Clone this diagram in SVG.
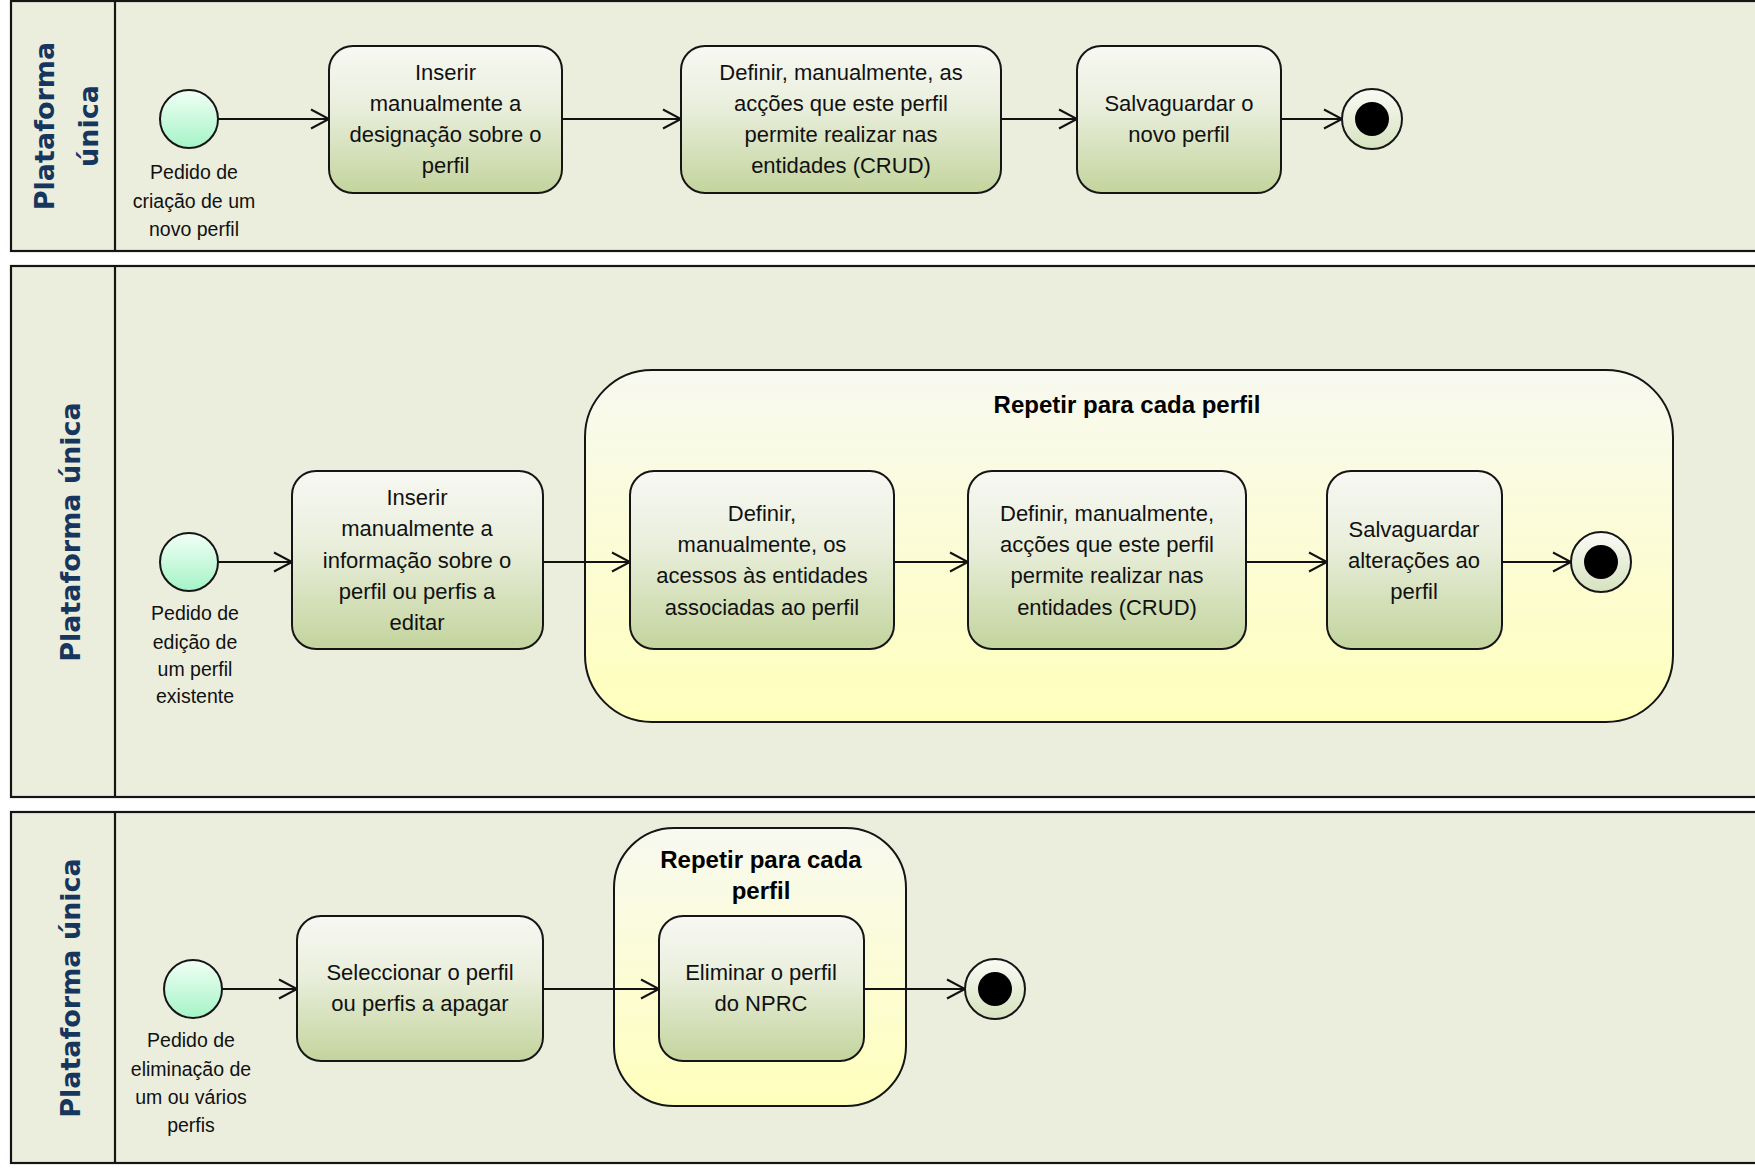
<svg xmlns="http://www.w3.org/2000/svg" width="1755" height="1170" viewBox="0 0 1755 1170">
  <defs>
    <linearGradient id="gTask" x1="0" y1="0" x2="0" y2="1">
      <stop offset="0" stop-color="#F7F8F3"/>
      <stop offset="0.4" stop-color="#EAEFDD"/>
      <stop offset="1" stop-color="#C3D49D"/>
    </linearGradient>
    <linearGradient id="gLoop" x1="0" y1="0" x2="0" y2="1">
      <stop offset="0" stop-color="#F8F9F0"/>
      <stop offset="1" stop-color="#FFFFBC"/>
    </linearGradient>
    <linearGradient id="gStart" x1="0" y1="0" x2="0" y2="1">
      <stop offset="0" stop-color="#F2FFF6"/>
      <stop offset="1" stop-color="#A4F4C6"/>
    </linearGradient>
    <linearGradient id="gEnd" x1="0" y1="0" x2="0" y2="1">
      <stop offset="0" stop-color="#FAFBF6"/>
      <stop offset="1" stop-color="#D6E2BE"/>
    </linearGradient>
    <marker id="arrow" markerUnits="userSpaceOnUse" markerWidth="24" markerHeight="24" viewBox="-20 -12 24 24" refX="0" refY="0" orient="auto">
      <path d="M -18 -9.5 L 0 0 L -18 9.5" fill="none" stroke="#111" stroke-width="2"/>
    </marker>
    <style>
      .lane { fill: #EBEEDD; stroke: #151515; stroke-width: 2.2; }
      .divider { stroke: #151515; stroke-width: 2.2; }
      .hdr { font-family: "DejaVu Sans", Verdana, sans-serif; font-weight: bold; font-size: 27px; fill: #17365D; text-anchor: middle; }
      .task { fill: url(#gTask); stroke: #151515; stroke-width: 2; }
      .loop { fill: url(#gLoop); stroke: #151515; stroke-width: 2; }
      .start { fill: url(#gStart); stroke: #151515; stroke-width: 2; }
      .endring { fill: url(#gEnd); stroke: #151515; stroke-width: 2; }
      .enddot { fill: #000; }
      .t { font-family: "Liberation Sans", Arial, sans-serif; font-size: 22px; fill: #111; text-anchor: middle; }
      .lbl { font-family: "Liberation Sans", Arial, sans-serif; font-size: 19.5px; fill: #111; text-anchor: middle; }
      .ttl { font-family: "Liberation Sans", Arial, sans-serif; font-size: 24px; font-weight: bold; fill: #000; text-anchor: middle; }
      .edge { fill: none; stroke: #111; stroke-width: 2; marker-end: url(#arrow); }
    </style>
  </defs>

  <rect width="1755" height="1170" fill="#FFFFFF"/>

  <!-- Swimlanes -->
  <g id="lane-criacao">
    <rect class="lane" x="11" y="1" width="1760" height="250"/>
    <line class="divider" x1="115" y1="1" x2="115" y2="251"/>
    <text class="hdr" transform="translate(54,126) rotate(-90)">Plataforma</text>
    <text class="hdr" transform="translate(98,126) rotate(-90)">única</text>
  </g>
  <g id="lane-edicao">
    <rect class="lane" x="11" y="266" width="1760" height="531"/>
    <line class="divider" x1="115" y1="266" x2="115" y2="797"/>
    <text class="hdr" transform="translate(80,532) rotate(-90)">Plataforma única</text>
  </g>
  <g id="lane-eliminacao">
    <rect class="lane" x="11" y="812" width="1760" height="351"/>
    <line class="divider" x1="115" y1="812" x2="115" y2="1163"/>
    <text class="hdr" transform="translate(80,988) rotate(-90)">Plataforma única</text>
  </g>

  <!-- Loop regions -->
  <g id="loop-edicao">
    <rect class="loop" x="585" y="370" width="1088" height="352" rx="67" ry="67"/>
    <text class="ttl" x="1127" y="413">Repetir para cada perfil</text>
  </g>
  <g id="loop-eliminacao">
    <rect class="loop" x="614" y="828" width="292" height="278" rx="60" ry="60"/>
    <text class="ttl" x="761" y="868">Repetir para cada</text>
    <text class="ttl" x="761" y="899">perfil</text>
  </g>

  <!-- Connectors -->
  <g id="connectors">
    <line class="edge" x1="218" y1="119" x2="329" y2="119"/>
    <line class="edge" x1="562" y1="119" x2="681" y2="119"/>
    <line class="edge" x1="1001" y1="119" x2="1077" y2="119"/>
    <line class="edge" x1="1281" y1="119" x2="1342" y2="119"/>

    <line class="edge" x1="218" y1="562" x2="292" y2="562"/>
    <line class="edge" x1="543" y1="562" x2="630" y2="562"/>
    <line class="edge" x1="894" y1="562" x2="968" y2="562"/>
    <line class="edge" x1="1246" y1="562" x2="1327" y2="562"/>
    <line class="edge" x1="1502" y1="562" x2="1571" y2="562"/>

    <line class="edge" x1="222" y1="989" x2="297" y2="989"/>
    <line class="edge" x1="543" y1="989" x2="659" y2="989"/>
    <line class="edge" x1="864" y1="989" x2="965" y2="989"/>
  </g>

  <!-- Lane 1: criação de perfil -->
  <g id="start-criacao">
    <circle class="start" cx="189" cy="119" r="29"/>
    <text class="lbl" x="194" y="179">Pedido de</text>
    <text class="lbl" x="194" y="208">criação de um</text>
    <text class="lbl" x="194" y="236">novo perfil</text>
  </g>
  <g id="task-inserir-designacao">
    <rect class="task" x="329" y="46" width="233" height="147" rx="24" ry="24"/>
    <text class="t" x="445.5" y="80">Inserir</text>
    <text class="t" x="445.5" y="111">manualmente a</text>
    <text class="t" x="445.5" y="142">designação sobre o</text>
    <text class="t" x="445.5" y="173">perfil</text>
  </g>
  <g id="task-definir-accoes-novo">
    <rect class="task" x="681" y="46" width="320" height="147" rx="24" ry="24"/>
    <text class="t" x="841" y="80">Definir, manualmente,  as</text>
    <text class="t" x="841" y="111">acções que este perfil</text>
    <text class="t" x="841" y="142">permite realizar nas</text>
    <text class="t" x="841" y="173">entidades (CRUD)</text>
  </g>
  <g id="task-salvaguardar-novo">
    <rect class="task" x="1077" y="46" width="204" height="147" rx="24" ry="24"/>
    <text class="t" x="1179" y="111">Salvaguardar o</text>
    <text class="t" x="1179" y="142">novo perfil</text>
  </g>
  <g id="end-criacao">
    <circle class="endring" cx="1372" cy="119" r="30"/>
    <circle class="enddot" cx="1372" cy="119" r="17"/>
  </g>

  <!-- Lane 2: edição de perfil -->
  <g id="start-edicao">
    <circle class="start" cx="189" cy="562" r="29"/>
    <text class="lbl" x="195" y="620">Pedido de</text>
    <text class="lbl" x="195" y="649">edição de</text>
    <text class="lbl" x="195" y="676">um perfil</text>
    <text class="lbl" x="195" y="703">existente</text>
  </g>
  <g id="task-inserir-informacao">
    <rect class="task" x="292" y="471" width="251" height="178" rx="24" ry="24"/>
    <text class="t" x="417" y="505">Inserir</text>
    <text class="t" x="417" y="536">manualmente a</text>
    <text class="t" x="417" y="568">informação sobre o</text>
    <text class="t" x="417" y="599">perfil ou perfis a</text>
    <text class="t" x="417" y="630">editar</text>
  </g>
  <g id="task-definir-acessos">
    <rect class="task" x="630" y="471" width="264" height="178" rx="24" ry="24"/>
    <text class="t" x="762" y="521">Definir,</text>
    <text class="t" x="762" y="552">manualmente, os</text>
    <text class="t" x="762" y="583">acessos às entidades</text>
    <text class="t" x="762" y="615">associadas ao perfil</text>
  </g>
  <g id="task-definir-accoes-edicao">
    <rect class="task" x="968" y="471" width="278" height="178" rx="24" ry="24"/>
    <text class="t" x="1107" y="521">Definir, manualmente,</text>
    <text class="t" x="1107" y="552">acções que este perfil</text>
    <text class="t" x="1107" y="583">permite realizar nas</text>
    <text class="t" x="1107" y="615">entidades (CRUD)</text>
  </g>
  <g id="task-salvaguardar-alteracoes">
    <rect class="task" x="1327" y="471" width="175" height="178" rx="24" ry="24"/>
    <text class="t" x="1414" y="537">Salvaguardar</text>
    <text class="t" x="1414" y="568">alterações ao</text>
    <text class="t" x="1414" y="599">perfil</text>
  </g>
  <g id="end-edicao">
    <circle class="endring" cx="1601" cy="562" r="30"/>
    <circle class="enddot" cx="1601" cy="562" r="17"/>
  </g>

  <!-- Lane 3: eliminação de perfis -->
  <g id="start-eliminacao">
    <circle class="start" cx="193" cy="989" r="29"/>
    <text class="lbl" x="191" y="1047">Pedido de</text>
    <text class="lbl" x="191" y="1076">eliminação de</text>
    <text class="lbl" x="191" y="1104">um ou vários</text>
    <text class="lbl" x="191" y="1132">perfis</text>
  </g>
  <g id="task-seleccionar">
    <rect class="task" x="297" y="916" width="246" height="145" rx="24" ry="24"/>
    <text class="t" x="420" y="980">Seleccionar o perfil</text>
    <text class="t" x="420" y="1011">ou perfis a apagar</text>
  </g>
  <g id="task-eliminar">
    <rect class="task" x="659" y="916" width="205" height="145" rx="24" ry="24"/>
    <text class="t" x="761" y="980">Eliminar o perfil</text>
    <text class="t" x="761" y="1011">do NPRC</text>
  </g>
  <g id="end-eliminacao">
    <circle class="endring" cx="995" cy="989" r="30"/>
    <circle class="enddot" cx="995" cy="989" r="17"/>
  </g>
</svg>
